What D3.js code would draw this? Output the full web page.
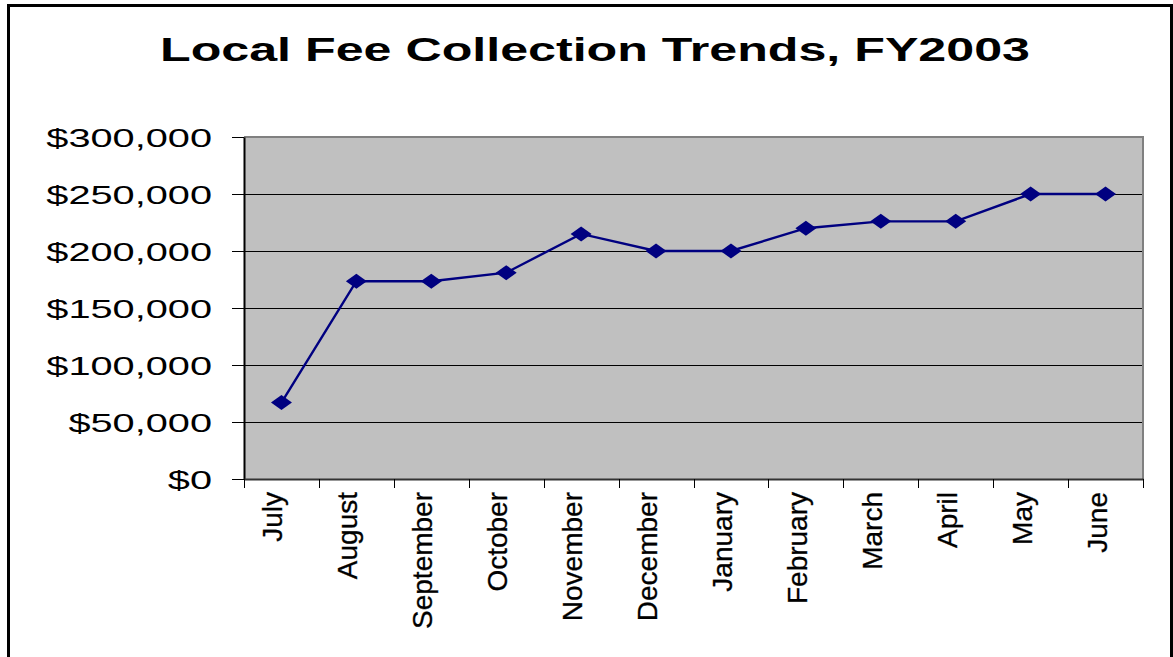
<!DOCTYPE html>
<html lang="en">
<head>
  <meta charset="UTF-8">
  <title>Local Fee Collection Trends, FY2003</title>
  <script src="https://d3js.org/d3.v7.min.js"></script>
  <style>
    body { margin: 0; background: #fff; }
    svg { display: block; font-family: Arial, "Liberation Sans", sans-serif; }
  </style>
</head>
<body>
  <svg id="chart" width="1173" height="657"></svg>
  <script>
    // data
    const months = ["July", "August", "September", "October", "November", "December",
                    "January", "February", "March", "April", "May", "June"];
    const fees = [67000, 173500, 173500, 181000, 215000, 200000,
                  200000, 220000, 226000, 226000, 250000, 250000];
    const yTicks = [0, 50000, 100000, 150000, 200000, 250000, 300000];

    const svg = d3.select("#chart");
    const plot = { left: 244, right: 1143, top: 137, bottom: 479 };

    // outer frame
    svg.append("rect")
      .attr("x", 8.5).attr("y", 5.5)
      .attr("width", 1163).attr("height", 720)
      .attr("fill", "#fff").attr("stroke", "#000").attr("stroke-width", 3);

    svg.append("text")
      .attr("x", 160).attr("y", 61)
      .attr("textLength", 870).attr("lengthAdjust", "spacingAndGlyphs")
      .attr("font-size", 33).attr("font-weight", "bold")
      .text("Local Fee Collection Trends, FY2003");

    const x = d3.scaleBand().domain(months).range([plot.left, plot.right]);
    const xEdges = d3.scaleLinear().domain([0, months.length]).range([plot.left, plot.right]);
    const y = d3.scaleLinear().domain([0, 300000]).range([plot.bottom, plot.top]);

    // plot background
    svg.append("rect")
      .attr("x", plot.left).attr("y", plot.top)
      .attr("width", plot.right - plot.left).attr("height", plot.bottom - plot.top)
      .attr("fill", "#c0c0c0");

    // gridlines
    svg.append("g")
      .attr("shape-rendering", "crispEdges")
      .selectAll("line")
      .data(yTicks.filter(d => d > 0 && d < 300000))
      .join("line")
      .attr("x1", plot.left).attr("x2", plot.right)
      .attr("y1", d => Math.round(y(d)) + 0.5).attr("y2", d => Math.round(y(d)) + 0.5)
      .attr("stroke", "#000").attr("stroke-width", 1);

    // top / right border of plot area
    svg.append("path")
      .attr("d", `M${plot.left},${plot.top}H${plot.right}V${plot.bottom}`)
      .attr("fill", "none").attr("stroke", "#808080").attr("stroke-width", 2);

    // y axis
    const yAxis = svg.append("g")
      .attr("transform", `translate(${plot.left},0)`)
      .call(d3.axisLeft(y).tickValues(yTicks).tickSize(12).tickSizeOuter(0)
        .tickFormat(d => "$" + d3.format(",")(d)));
    yAxis.select(".domain").attr("stroke", "#000").attr("stroke-width", 2);
    yAxis.selectAll(".tick line").attr("stroke", "#000").attr("shape-rendering", "crispEdges");
    yAxis.selectAll(".tick text")
      .attr("x", -32 / 1.5)
      .attr("dy", "0.36em")
      .attr("transform", "scale(1.5,1)")
      .attr("font-size", 26.5)
      .attr("font-family", null)
      .attr("fill", "#000");

    // x axis: ticks between categories
    const xTickAxis = svg.append("g")
      .attr("transform", `translate(0,${plot.bottom})`)
      .call(d3.axisBottom(xEdges).tickValues(d3.range(months.length + 1))
        .tickSize(9).tickSizeOuter(0).tickFormat(""));
    xTickAxis.select(".domain").attr("stroke", "#333").attr("stroke-width", 2);
    xTickAxis.selectAll(".tick line").attr("stroke", "#000").attr("shape-rendering", "crispEdges");

    svg.append("g")
      .selectAll("text")
      .data(months)
      .join("text")
      .attr("transform", d => `translate(${x(d) + x.bandwidth() / 2 + 1},492) rotate(-90)`)
      .attr("text-anchor", "end")
      .attr("font-size", 28)
      .attr("fill", "#000")
      .attr("stroke", "#000")
      .attr("stroke-width", 0.3)
      .text(d => d);

    // series
    const line = d3.line()
      .x((d, i) => x(months[i]) + x.bandwidth() / 2)
      .y(d => y(d));

    svg.append("path")
      .datum(fees)
      .attr("d", line)
      .attr("fill", "none")
      .attr("stroke", "#000080")
      .attr("stroke-width", 2.4);

    svg.append("g")
      .selectAll("path")
      .data(fees)
      .join("path")
      .attr("transform", (d, i) => `translate(${x(months[i]) + x.bandwidth() / 2},${y(d)})`)
      .attr("d", "M-10.5,0L0,-7.5L10.5,0L0,7.5Z")
      .attr("fill", "#000080");
  </script>
</body>
</html>
